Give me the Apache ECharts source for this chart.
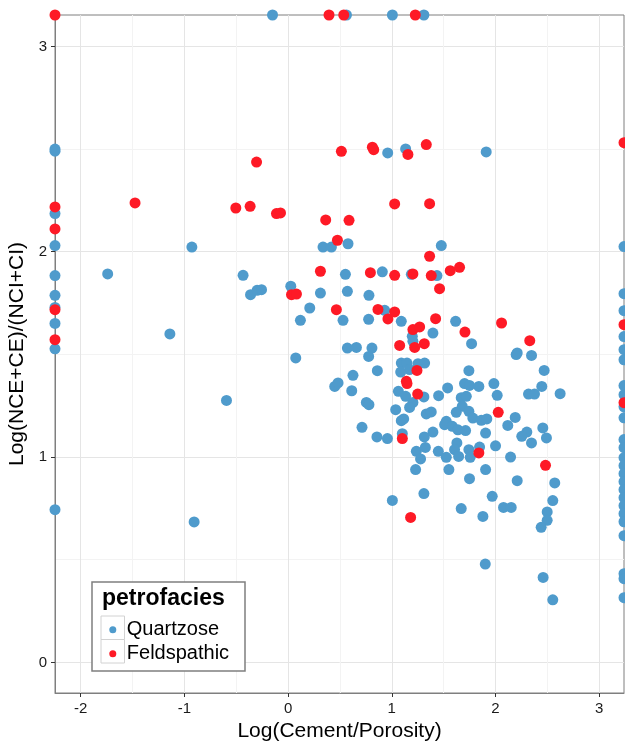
<!DOCTYPE html>
<html><head><meta charset="utf-8">
<script src="https://cdn.jsdelivr.net/npm/echarts@6/dist/echarts.min.js"></script>
<style>html,body{margin:0;padding:0;background:#fff}#c{width:625px;height:743px}</style>
</head><body><div id="c"></div>
<script>
// axis extents and ticks
const xMin = -2.248, xMax = 3.24;
const yMin = -0.149, yMax = 3.153;
const xTicks = [-2, -1, 0, 1, 2, 3];
const yTicks = [0, 1, 2, 3];
const xMinor = [-1.5, -0.5, 0.5, 1.5, 2.5];
const yMinor = [0.5, 1.5, 2.5];
const seriesNames = ['Quartzose', 'Feldspathic'];

// [Log(Cement/Porosity), Log(NCE+CE)/(NCI+CI)]
const quartzose = [
[-0.15,3.153],[0.563,3.153],[1.006,3.153],[1.31,3.153],
[-2.248,2.50],[-2.248,2.49],[-2.248,2.186],[-2.248,2.03],[-2.248,1.884],[-2.248,1.788],[-2.248,1.729],[-2.248,1.651],[-2.248,1.527],[-2.248,0.744],
[-0.928,2.023],[0.337,2.023],[0.418,2.023],[0.578,2.039],[1.478,2.030],[0.961,2.481],[1.134,2.501],[1.911,2.486],
[-1.740,1.892],[-1.140,1.600],[-0.594,1.276],[-0.434,1.885],[-0.362,1.791],[-0.299,1.812],[-0.256,1.815],[0.026,1.832],[0.119,1.666],[0.074,1.483],[0.209,1.726],[0.312,1.799],[0.450,1.344],[0.482,1.361],
[0.553,1.890],[0.909,1.902],[1.189,1.890],[1.436,1.884],[0.572,1.807],[0.780,1.788],[0.530,1.666],[0.932,1.715],[0.777,1.671],[1.092,1.661],[1.616,1.661],[1.770,1.552],[1.198,1.588],[1.204,1.564],[1.397,1.604],
[0.572,1.531],[0.659,1.534],[0.809,1.531],[0.777,1.490],[2.200,1.499],[2.210,1.507],[2.348,1.495],
[1.092,1.458],[1.147,1.458],[1.253,1.455],[1.317,1.458],[1.172,1.426],[1.086,1.414],[0.861,1.421],[0.626,1.398],[1.744,1.421],[2.470,1.422],[2.447,1.344],
[0.614,1.323],[1.064,1.320],[1.134,1.296],[1.310,1.293],[1.452,1.299],[1.539,1.337],[1.702,1.358],[1.750,1.349],[1.840,1.344],[1.985,1.358],[2.017,1.301],[1.670,1.289],[1.719,1.296],[2.319,1.307],[2.377,1.307],[2.624,1.309],
[0.755,1.266],[0.780,1.255],[1.204,1.266],[1.172,1.242],[1.680,1.247],[1.038,1.231],[1.622,1.218],[1.744,1.223],[1.333,1.210],[1.381,1.220],[1.782,1.190],[1.863,1.179],[1.917,1.186],[2.191,1.193],[1.092,1.177],[1.115,1.186],
[1.526,1.174],[1.510,1.158],[1.584,1.150],[1.638,1.133],[1.712,1.129],[2.119,1.154],[0.713,1.145],[1.397,1.122],[1.905,1.117],[2.303,1.122],[2.254,1.101],[2.457,1.142],[2.492,1.093],[2.348,1.069],
[0.857,1.098],[0.958,1.090],[1.102,1.114],[1.314,1.098],[1.237,1.028],[1.324,1.047],[1.449,1.028],[1.628,1.069],[1.606,1.036],[1.744,1.036],[1.847,1.049],[2.001,1.055],
[1.526,0.999],[1.645,1.003],[1.757,0.999],[2.146,1.000],[1.278,0.991],[1.230,0.939],[1.551,0.939],[1.905,0.939],[1.750,0.895],[2.210,0.885],[2.572,0.874],
[-0.906,0.684],[1.006,0.789],[1.310,0.822],[1.670,0.749],[1.879,0.711],[1.969,0.809],[2.078,0.755],[2.152,0.755],[2.553,0.788],[2.499,0.733],[2.499,0.692],[2.441,0.658],[1.902,0.479],[2.460,0.414],[2.553,0.305],
[3.24,2.025],[3.24,1.796],[3.24,1.713],[3.24,1.587],[3.24,1.523],[3.24,1.474],[3.24,1.348],[3.24,1.304],[3.24,1.245],[3.24,1.191],[3.24,1.085],[3.24,1.046],[3.24,0.997],[3.24,0.958],[3.24,0.919],[3.24,0.880],[3.24,0.841],[3.24,0.802],[3.24,0.763],[3.24,0.724],[3.24,0.685],[3.24,0.617],[3.24,0.432],[3.24,0.408],[3.24,0.315]
];

const feldspathic = [
[-2.248,3.153],[0.395,3.153],[0.537,3.153],[1.227,3.153],
[-2.248,2.218],[-2.248,2.111],[-2.248,1.718],[-2.248,1.572],
[-1.476,2.238],[-0.504,2.213],[-0.366,2.221],[-0.304,2.437],[-0.112,2.186],[-0.073,2.189],[0.363,2.155],[0.476,2.056],[0.514,2.489],[0.813,2.509],[0.826,2.497],[1.156,2.474],[1.333,2.522],[1.028,2.233],[1.365,2.234],[0.588,2.153],
[0.033,1.791],[0.081,1.794],[0.312,1.905],[0.466,1.718],[1.365,1.978],[0.794,1.898],[1.028,1.885],[1.204,1.892],[1.381,1.884],[1.564,1.908],[1.654,1.924],[1.461,1.820],
[0.867,1.719],[1.028,1.707],[0.963,1.673],[1.423,1.674],[2.059,1.653],[1.706,1.609],[2.331,1.567],[1.204,1.621],[1.269,1.634],[1.314,1.552],[1.076,1.544],[1.221,1.534],[1.243,1.422],[1.141,1.369],[1.147,1.358],[1.250,1.307],[2.027,1.218],[1.102,1.090],[1.840,1.020],[2.483,0.960],[1.182,0.706],
[3.24,2.531],[3.24,1.645],[3.24,1.265]
];

const colors = ['#4F9BCC', '#FE1A26'];
const fam = "'Liberation Sans', Arial, Helvetica, sans-serif";

const chart = echarts.init(document.getElementById('c'), null, {renderer: 'canvas'});

function mainAxis(min, max, ticks, name, nameGap, margin) {
  return {
    type: 'value', min: min, max: max,
    axisLine: {show: true, onZero: false, lineStyle: {color: '#7f7f7f', width: 1}},
    axisTick: {show: true, customValues: ticks, length: 4, lineStyle: {color: '#333'}},
    axisLabel: {customValues: ticks, fontSize: 15, color: '#1a1a1a', margin: margin, fontFamily: fam},
    splitLine: {show: true, lineStyle: {color: '#e5e5e5', width: 1}},
    name: name, nameLocation: 'middle', nameGap: nameGap,
    nameTextStyle: {fontSize: 21, color: '#000', fontFamily: fam}
  };
}
function minorAxis(min, max, ticks) {
  return {
    type: 'value', min: min, max: max,
    axisLine: {show: false},
    axisTick: {show: false, customValues: ticks},
    axisLabel: {show: false, customValues: ticks},
    splitLine: {show: true, lineStyle: {color: '#f3f3f3', width: 1}}
  };
}

const option = {
  animation: false,
  backgroundColor: '#fff',
  textStyle: {fontFamily: fam},
  grid: {left: 55, right: 1, top: 15, bottom: 50, containLabel: false, outerBoundsMode: 'none',
         show: true, borderColor: '#7f7f7f', borderWidth: 1, backgroundColor: '#fff'},
  xAxis: [mainAxis(xMin, xMax, xTicks, 'Log(Cement/Porosity)', 28, 8), minorAxis(xMin, xMax, xMinor)],
  yAxis: [mainAxis(yMin, yMax, yTicks, 'Log(NCE+CE)/(NCI+CI)', 26, 8), minorAxis(yMin, yMax, yMinor)],
  legend: {
    data: seriesNames, orient: 'vertical', left: 109.3, top: 617.7, padding: 0,
    itemWidth: 18, itemHeight: 7, itemGap: 0, icon: 'circle', selectedMode: false, z: 20,
    textStyle: {fontSize: 20, color: '#000', fontFamily: fam, lineHeight: 24}
  },
  graphic: [
    {type: 'rect', z: 10, shape: {x: 92, y: 582, width: 153, height: 89}, style: {fill: '#fff', stroke: '#7f7f7f', lineWidth: 1.5}},
    {type: 'rect', z: 11, shape: {x: 101, y: 616, width: 23.5, height: 23.5}, style: {fill: '#fff', stroke: '#d2d2d2', lineWidth: 1}},
    {type: 'rect', z: 11, shape: {x: 101, y: 639.5, width: 23.5, height: 23.5}, style: {fill: '#fff', stroke: '#d2d2d2', lineWidth: 1}},
    {type: 'text', z: 12, style: {text: 'petrofacies', x: 102, y: 598.4, fill: '#000', font: 'bold 23px ' + fam, verticalAlign: 'middle', align: 'left'}}
  ],
  series: [
    {name: seriesNames[0], type: 'scatter', data: quartzose, symbolSize: 11, clip: false, itemStyle: {color: colors[0], opacity: 1}},
    {name: seriesNames[1], type: 'scatter', data: feldspathic, symbolSize: 11, clip: false, itemStyle: {color: colors[1], opacity: 1}}
  ]
};
chart.setOption(option);
</script>
</body></html>
